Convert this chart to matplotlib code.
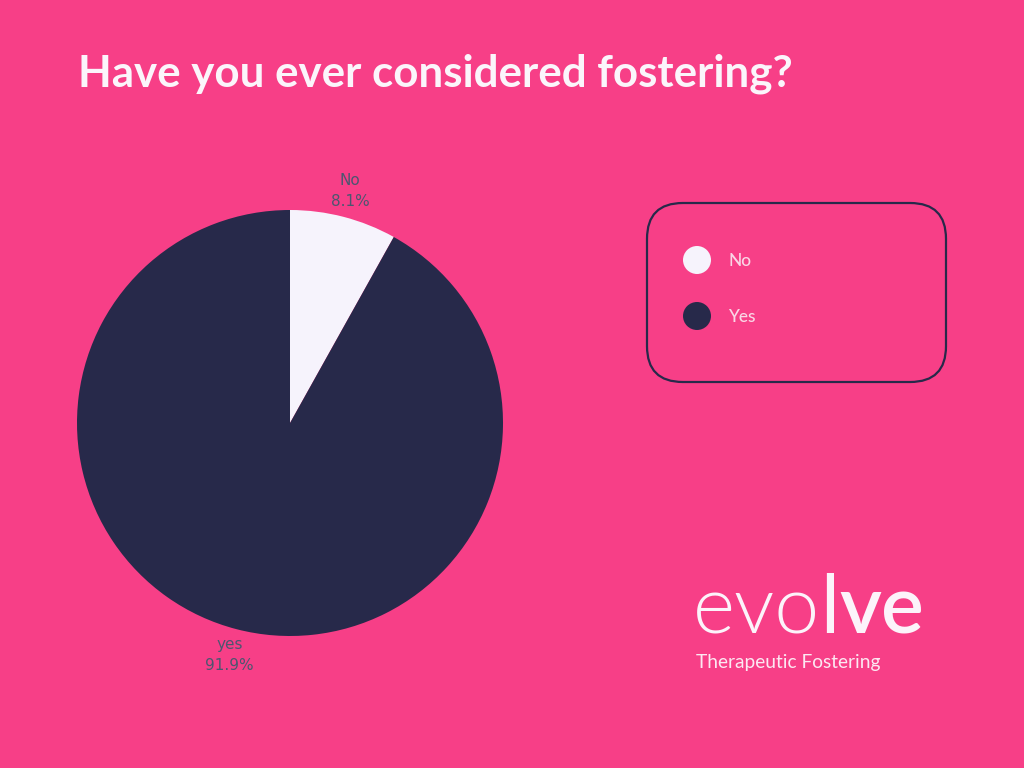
import matplotlib
matplotlib.use("Agg")
import matplotlib.pyplot as plt
from matplotlib.patches import FancyBboxPatch, Circle

# data
categories = ["No", "Yes"]
slice_labels = ["No", "yes"]
values = [8.1, 91.9]

BG = "#F73F87"
NAVY = "#27294A"
LIGHT = "#F6F3FC"
LABEL = "#4C5670"
LEG_TXT = "#FAD6E6"
colors = [LIGHT, NAVY]

W, H = 1024, 768
fig = plt.figure(figsize=(W / 100, H / 100), dpi=100, facecolor=BG)

def fx(x):
    return x / W

def fy(y):
    return 1 - y / H

# title
fig.text(fx(78), fy(86), "Have you ever considered fostering?", family="Lato",
         fontweight="bold", fontsize=31.6, color="#FBF5FB", ha="left", va="baseline")

# pie
cx, cy, r = 290, 423, 213
ax = fig.add_axes([fx(cx - r), fy(cy + r), 2 * r / W, 2 * r / H])
ax.set_facecolor("none")
labels = [f"{c}\n{v}%" for c, v in zip(slice_labels, values)]
wedges, texts = ax.pie(values, colors=colors, startangle=90, counterclock=False,
                       labels=labels, labeldistance=1.125, radius=1,
                       wedgeprops=dict(linewidth=0),
                       textprops=dict(fontsize=11, color=LABEL, family="DejaVu Sans",
                                      linespacing=1.45))
for t in texts:
    t.set_ha("center")
    t.set_va("center")
ax.set_xlim(-1, 1)
ax.set_ylim(-1, 1)
ax.set_aspect("equal")
ax.axis("off")

# legend box
lx0, ly0, lx1, ly1 = 647, 203, 946, 382
box = FancyBboxPatch((fx(lx0), fy(ly1)), fx(lx1 - lx0), (ly1 - ly0) / H,
                     boxstyle="round,pad=0,rounding_size=0.035",
                     transform=fig.transFigure, facecolor="none",
                     edgecolor=NAVY, linewidth=1.6, mutation_aspect=W / H)
fig.patches.append(box)
lax = fig.add_axes([0, 0, 1, 1], facecolor="none")
lax.set_xlim(0, W)
lax.set_ylim(H, 0)
lax.axis("off")
for i, (c, col) in enumerate(zip(categories, colors)):
    yy = 260 + i * 56
    lax.add_patch(Circle((697, yy), 14, facecolor=col, edgecolor="none"))
    lax.text(728, yy + 1, c, family="Lato", fontweight="medium", fontsize=12.5,
             color=LEG_TXT, ha="left", va="center")

# logo
t1 = lax.text(693, 633, "evo", family="Lato", fontweight=300, fontsize=58,
              color="#FCF3FA", ha="left", va="baseline")
t2 = lax.annotate("l", xy=(1, 0), xycoords=t1, xytext=(0, 0), textcoords="offset points",
                  family="Lato", fontweight="normal", fontsize=58, color="#FCF3FA",
                  ha="left", va="bottom")
t3 = lax.annotate("ve", xy=(1, 0), xycoords=t2, xytext=(0, 0), textcoords="offset points",
                  family="Lato", fontweight="semibold", fontsize=58, color="#FCF3FA",
                  ha="left", va="bottom")
lax.text(696, 668, "Therapeutic Fostering", family="Lato", fontsize=13.8,
         color="#FCE8F2", ha="left", va="baseline")

fig.savefig("out.png", dpi=100, facecolor=BG)
